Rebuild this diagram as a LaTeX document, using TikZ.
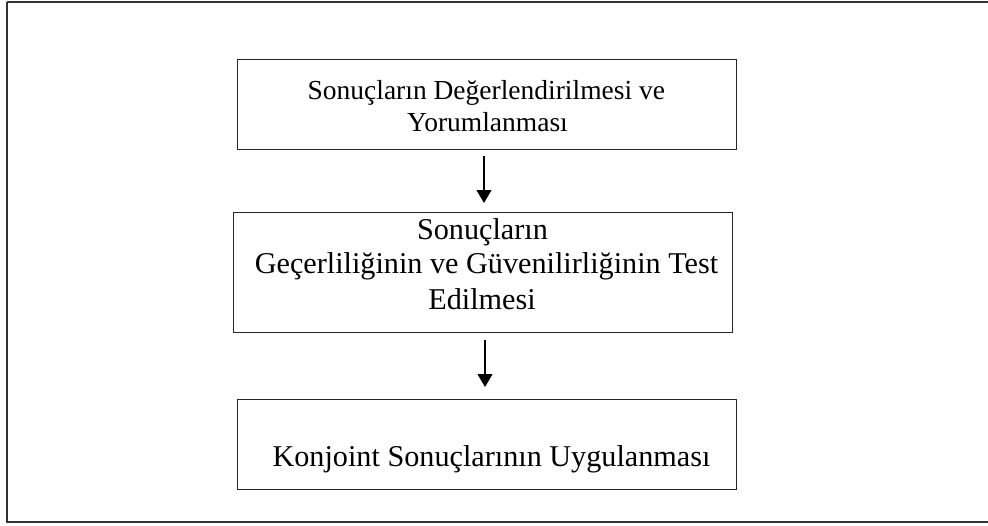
\documentclass[tikz,border=0pt]{standalone}
\usepackage{fontspec}
\setmainfont{Liberation Serif}
\usetikzlibrary{arrows.meta}
\begin{document}
\begin{tikzpicture}[x=1pt,y=1pt,
  box/.style={draw=black!85, line width=0.9pt, inner sep=0pt},
  txtA/.style={anchor=base, inner sep=0pt, font=\fontsize{27.5}{30}\selectfont},
  txtB/.style={anchor=base, inner sep=0pt, font=\fontsize{30.2}{35}\selectfont},
  conn/.style={line width=1.1pt, -{Triangle[width=15pt,length=13pt]}},
  frame/.style={draw=black!80, line width=2pt}]
\useasboundingbox (0,0) rectangle (988,-525);
\draw[frame] (7,-2) -- (995,-2);
\draw[frame] (7,-2) -- (7,-522) -- (995,-522);
\node[box, minimum width=499pt, minimum height=90pt] (b1) at (486.5,-104) {};
\node[txtA] (t1a) at (486.3,-99.3) {Sonuçların Değerlendirilmesi ve};
\node[txtA] (t1b) at (487.5,-131) {Yorumlanması};
\node[box, minimum width=499pt, minimum height=120pt] (b2) at (482.5,-272) {};
\node[txtB] (t2a) at (482.5,-239.3) {Sonuçların};
\node[txtB] (t2b) at (486.5,-273.5) {Geçerliliğinin ve Güvenilirliğinin Test};
\node[txtB] (t2c) at (482,-309.3) {Edilmesi};
\node[box, minimum width=499pt, minimum height=90pt] (b3) at (486.5,-444) {};
\node[txtB] (t3) at (491.5,-466.7) {Konjoint Sonuçlarının Uygulanması};
\coordinate (a1s) at (484,-156);
\coordinate (a1e) at (484,-203);
\coordinate (a2s) at (485,-340);
\coordinate (a2e) at (485,-387);
\draw[conn] (a1s) -- (a1e);
\draw[conn] (a2s) -- (a2e);
\end{tikzpicture}
\end{document}
